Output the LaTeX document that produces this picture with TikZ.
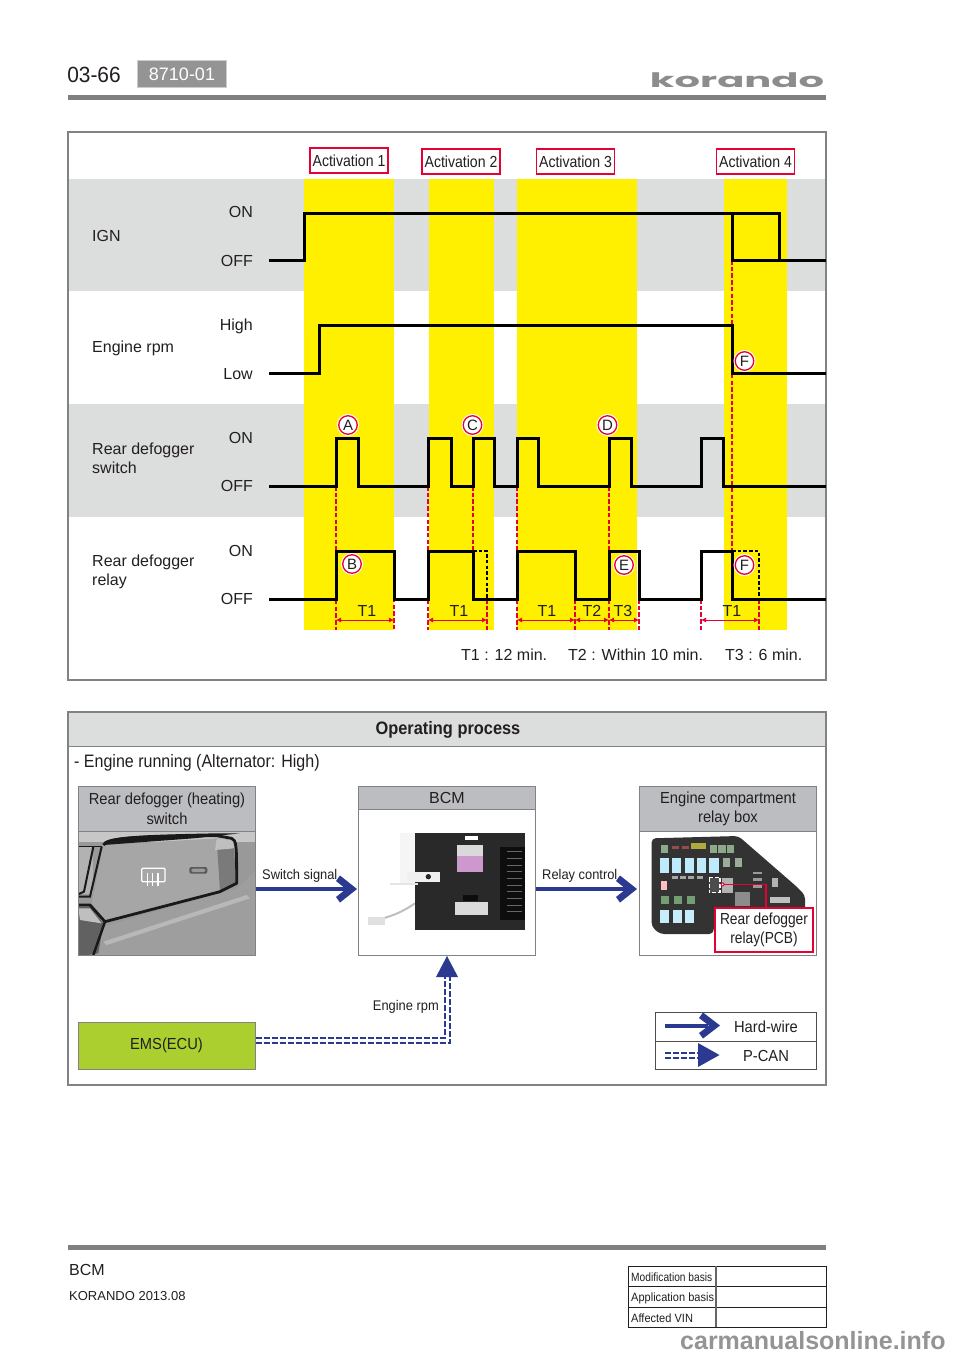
\documentclass[tikz,border=0pt]{standalone}
\usepackage{fontspec}
\setmainfont{Liberation Sans}
\newfontfamily\logofont{Poppins}
\usetikzlibrary{arrows.meta}
\definecolor{bandgray}{HTML}{DCDDDD}
\definecolor{sigyellow}{HTML}{FFF000}
\definecolor{redline}{HTML}{E60033}
\definecolor{hdrgray}{HTML}{BCBDC0}
\definecolor{navy}{HTML}{2B3990}
\definecolor{framegray}{HTML}{808285}
\definecolor{emsgreen}{HTML}{AACF2F}
\definecolor{inkk}{HTML}{231F20}
\newcommand{\fs}[1]{\fontsize{#1}{#1}\selectfont}
\newcommand{\sx}[2]{\scalebox{#1}[1]{#2}}
\tikzset{
  x=1pt,y=-1pt,
  lbl/.style={inner sep=0pt,text=inkk,font=\fs{16}},
  sig/.style={line width=3pt,black,line join=miter},
  ghost/.style={line width=2.7pt,black,dash pattern=on 3.5pt off 2.2pt},
  reddash/.style={line width=1.5pt,redline,dash pattern=on 4.5pt off 2.2pt},
  spanline/.style={line width=.8pt,redline,{Latex[length=5pt,width=5pt]}-{Latex[length=5pt,width=5pt]}},
  act/.style={draw=redline,line width=1.4pt,fill=white,inner sep=0pt,minimum width=78pt,minimum height=25pt,text=inkk,font=\fs{16}},
  circmark/.style={circle,draw=redline,line width=1.3pt,fill=white,minimum size=18.5pt,inner sep=0pt,text=inkk,font=\fs{15},preaction={draw=white,line width=3.5pt}},
  hdrbox/.style={draw=framegray,line width=1pt,fill=hdrgray,inner sep=0pt,anchor=north west,minimum width=177pt,align=center,text=inkk,font=\fs{16}},
  bodybox/.style={draw=framegray,line width=1pt,fill=white,inner sep=0pt,anchor=north west,minimum width=177pt},
  wire/.style={navy,line width=4pt},
  can/.style={navy,line width=2pt,dash pattern=on 6pt off 2pt},
  smalltxt/.style={inner sep=0pt,text=inkk,font=\fs{14}},
  tabt/.style={inner sep=0pt,anchor=west,text=inkk,font=\fs{12}},
}
\begin{document}
\begin{tikzpicture}
\useasboundingbox (0,0) rectangle (960,1358);
\fill[white] (0,0) rectangle (960,1358);
% header
\node[inner sep=0pt,text=inkk,font=\fs{22}] (pg) at (94,74.5) {\sx{.95}{03-66}};
\node[draw=black!20,line width=1.5pt,fill=black!42,text=white,font=\fs{18},minimum width=89pt,minimum height=27pt,inner sep=0pt] (code) at (182,74) {8710-01};
\node[inner sep=0pt,text=black!45,font=\logofont\bfseries\fs{20}] (logo) at (737,80) {\sx{2.0}{korando}};
\fill[black!50] (68,95) rectangle (826,100);
% frame 1
\fill[bandgray] (69,179) rectangle (825,291);
\fill[bandgray] (69,404) rectangle (825,517);
\foreach \a/\b in {304/394,429/494,517/637,724/787}
  \fill[sigyellow] (\a,179) rectangle (\b,630);
\draw[framegray,line width=1.4pt] (68,132) rectangle (826,680);
\node[act] (ac1) at (349,160.5) {\sx{.88}{Activation 1}};
\node[act] (ac2) at (461,161.5) {\sx{.88}{Activation 2}};
\node[act] (ac3) at (575.5,161.5) {\sx{.88}{Activation 3}};
\node[act] (ac4) at (755.5,161.5) {\sx{.88}{Activation 4}};
% labels
\node[lbl,anchor=west] (l1) at (92,236) {IGN};
\node[lbl,anchor=west] (l2) at (92,348) {Engine rpm};
\node[lbl,anchor=west,align=left] (l3) at (92,458.5) {Rear defogger\\[3pt]switch};
\node[lbl,anchor=west,align=left] (l4) at (92,572) {Rear defogger\\[3pt]relay};
\foreach \t/\y [count=\i] in {ON/212,OFF/261,High/326,Low/374,ON/438,OFF/486,ON/551,OFF/599}
  \node[lbl,anchor=east] (s\i) at (253,\y) {\t};
% red dashes
\foreach \x/\a/\b in {336/486/630,394/551/630,428/486/630,473/486/551,487/599/630,517/486/630,575/599/630,609/486/630,639/599/630,701/599/630,732/260/551,759/599/630}
  \draw[reddash] (\x,\a) -- (\x,\b);
% signals
\draw[sig] (269,260) -- (304,260) -- (304,213) -- (779,213) -- (779,260) -- (826,260);
\draw[sig] (732,213) -- (732,260) -- (779,260);
\draw[sig] (269,373) -- (319,373) -- (319,325) -- (732,325) -- (732,373) -- (826,373);
\draw[sig] (269,486) -- (336,486) -- (336,438) -- (358,438) -- (358,486) -- (428,486) -- (428,438) -- (451,438) -- (451,486) -- (473,486) -- (473,438) -- (494,438) -- (494,486) -- (517,486) -- (517,438) -- (538,438) -- (538,486) -- (609,486) -- (609,438) -- (631,438) -- (631,486) -- (701,486) -- (701,438) -- (723,438) -- (723,486) -- (826,486);
\draw[sig] (269,599) -- (336,599) -- (336,551) -- (394,551) -- (394,599) -- (428,599) -- (428,551) -- (473,551) -- (473,599) -- (517,599) -- (517,551) -- (575,551) -- (575,599) -- (609,599) -- (609,551) -- (639,551) -- (639,599) -- (701,599) -- (701,551) -- (732,551) -- (732,599) -- (826,599);
\draw[ghost] (473,551) -- (487,551) -- (487,599);
\draw[ghost] (732,551) -- (759,551) -- (759,599);
% spans
\foreach \a/\b in {336/394,428/487,517/575,575/609,609/639,701/759}
  \draw[spanline] (\a,620) -- (\b,620);
\foreach \x/\t [count=\i] in {367/T1,459/T1,547/T1,592/T2,623/T3,732/T1}
  \node[lbl] (tt\i) at (\x,610.5) {\t};
\node[circmark] (mA) at (348,425) {A};
\node[circmark] (mC) at (472.5,425) {C};
\node[circmark] (mD) at (607.5,425) {D};
\node[circmark] (mB) at (352,564) {B};
\node[circmark] (mE) at (624,565) {E};
\node[circmark] (mF) at (744.5,565) {F};
\node[circmark] (mG) at (744.5,361) {F};
\node[lbl,anchor=west] (k1) at (461,655) {T1 : 12 min.};
\node[lbl,anchor=west] (k2) at (568,655) {T2 : Within 10 min.};
\node[lbl,anchor=west] (k3) at (725,655) {T3 : 6 min.};
% frame 2
\fill[bandgray] (68,712) rectangle (826,746);
\draw[framegray,line width=1.4pt] (68,712) rectangle (826,1085);
\draw[framegray,line width=1pt] (68,746) -- (826,746);
\node[inner sep=0pt,text=inkk,font=\bfseries\fs{18}] (op) at (448,730) {\sx{.91}{Operating process}};
\node[inner sep=0pt,anchor=west,text=inkk,font=\fs{18}] (er) at (74,763) {\sx{.89}{- Engine running (Alternator: High)}};
% switch box
\node[hdrbox,minimum height=45pt] (swh) at (78,786) {\sx{.92}{Rear defogger (heating)}\\[3.5pt]\sx{.92}{switch}};
\node[bodybox,minimum height=124pt] (swb) at (78,831) {};
\begin{scope}
\clip (78,831) rectangle (255,955);
\begin{scope}[shift={(60,770)},x=.33333pt,y=-.33333pt]
\fill[black!40] (50,180) rectangle (590,560);
\fill[black!22] (50,180) rectangle (590,215);
\fill[black!38] (130,470) -- (530,355) -- (590,300) -- (590,560) -- (100,560) -- cycle;
\fill[black!28] (130,515) -- (560,375) -- (570,385) -- (140,525) -- cycle;
\fill[black!35] (130,225) -- (470,205) -- (520,210) -- (530,340) -- (480,365) -- (135,450) -- (95,400) -- cycle;
\fill[black!52] (470,205) -- (520,210) -- (530,340) -- (480,365) -- cycle;
\fill[black!25] (470,205) -- (520,210) -- (522,235) -- (465,240) -- cycle;
\fill[black!62] (50,410) -- (90,410) -- (130,460) -- (115,550) -- (50,560) -- cycle;
\fill[black!25] (55,415) -- (90,415) -- (125,460) -- (60,450) -- cycle;
\fill[black!30] (50,232) rectangle (100,372);
\draw[black!90,line width=2.8pt,line join=round] (130,225) .. controls (140,205) and (200,200) .. (470,197) -- (515,205) .. controls (530,210) and (530,230) .. (530,340) -- (480,365) -- (135,455) -- (90,405) -- (50,405);
\fill[black!90] (130,225) .. controls (140,200) and (200,195) .. (470,190) -- (540,190) -- (400,205) -- cycle;
\draw[black!90,line width=2pt] (125,230) -- (90,380) -- (50,380);
\draw[black!90,line width=2pt] (100,230) -- (72,365) -- (50,375);
\draw[black!90,line width=1.5pt] (50,230) -- (125,230);
\draw[black!90,line width=2.5pt] (135,455) -- (100,555);
\draw[white,line width=1.3pt,rounded corners=1pt] (245,295) rectangle (315,335);
\foreach \q in {262,278,294} \draw[white,line width=1.1pt] (\q,308) -- (\q,348);
\fill[black!65,rounded corners=2pt] (388,291) rectangle (442,311);
\fill[black!40,rounded corners=2pt] (394,296) rectangle (436,306);
\end{scope}
\end{scope}
\draw[framegray,line width=1pt] (78,831) rectangle (255,955);
% BCM box
\node[hdrbox,minimum height=23pt] (bcmh) at (358,786) {BCM};
\node[bodybox,minimum height=146pt] (bcmb) at (358,809) {};
\begin{scope}[shift={(350,770)},x=.33333pt,y=-.33333pt]
\draw[black!25,line width=2pt] (195,400) .. controls (150,430) and (130,435) .. (100,445);
\fill[black!12] (55,440) rectangle (105,465);
\fill[black!4] (150,190) rectangle (200,340);
\fill[black!84] (195,190) rectangle (525,480);
\fill[white] (345,197) rectangle (385,210);
\fill[black!6] (205,305) rectangle (270,335);
\fill[black!6] (170,305) rectangle (205,335);
\fill[black!85] (235,320) circle[radius=8];
\fill[black!10] (120,340) rectangle (205,344);
\fill[violet!40] (320,258) rectangle (400,305);
\fill[black!15] (320,225) rectangle (400,258);
\fill[black!95] (340,375) rectangle (385,392);
\fill[black!14] (315,395) rectangle (415,435);
\fill[black!95] (450,230) rectangle (525,450);
\foreach \q in {245,265,...,425} \draw[black!60,line width=1pt] (470,\q) -- (515,\q);
\end{scope}
\draw[framegray,line width=1pt] (358,809) rectangle (535,955);
% relay box
\node[hdrbox,minimum height=45pt] (rbh) at (639,786) {\sx{.92}{Engine compartment}\\[3.5pt]\sx{.92}{relay box}};
\node[bodybox,minimum height=124pt] (rbb) at (639,831) {};
\begin{scope}[shift={(630,780)},x=.33333pt,y=-.33333pt]
\fill[black!80,rounded corners=4pt] (65,175) -- (325,168) -- (500,320) -- (525,345) -- (525,400) -- (255,400) -- (250,462) -- (90,462) -- (65,440) -- cycle;
\foreach \q in {90,125,165,200,238} \fill[cyan!25!white] (\q,235) rectangle (\q+28,280);
\foreach \q in {90,128,165} \fill[cyan!22!white] (\q,390) rectangle (\q+28,430);
\foreach \q in {92,132,170} \fill[green!30!black!55] (\q,347) rectangle (\q+24,372);
\foreach \q in {92,240,265,290} \fill[green!25!black!45] (\q,195) rectangle (\q+22,220);
\fill[yellow!65!black] (182,190) rectangle (228,207);
\foreach \q in {125,155} \fill[red!40!black!70] (\q,198) rectangle (\q+22,207);
\fill[red!25!white] (92,302) rectangle (112,330);
\fill[green!20!black!40] (280,235) rectangle (300,260);
\fill[green!20!black!40] (315,235) rectangle (335,260);
\foreach \q in {125,150,175,200} \fill[black!35] (\q,288) rectangle (\q+18,296);
\fill[black!45] (315,335) rectangle (360,378);
\fill[black!25] (420,350) rectangle (480,370);
\foreach \q in {275,295,315} \fill[black!40] (370,\q) rectangle (395,\q+8);
\fill[black!30] (425,295) rectangle (445,320);
\fill[black!30] (275,295) rectangle (310,340);
\draw[white,line width=1.5pt,dash pattern=on 4pt off 2pt,fill=black!70] (238,293) rectangle (270,338);
\draw[redline,line width=1.5pt] (278,313) -- (408,313) -- (408,385);
\fill[redline] (278,313) circle[radius=6];
\fill[white] (278,313) circle[radius=2.5];
\end{scope}
\draw[framegray,line width=1pt] (639,831) rectangle (816,955);
\node[draw=redline,line width=1.4pt,fill=white,inner sep=0pt,minimum width=98pt,minimum height=44pt,align=center,text=inkk,font=\fs{16}] (rc) at (764,930) {\sx{.86}{Rear defogger}\\[3.5pt]\sx{.86}{relay(PCB)}};
% EMS
\node[draw=framegray,line width=1pt,fill=emsgreen,inner sep=0pt,minimum width=177pt,minimum height=47pt,text=inkk,font=\fs{16}] (ems) at (166.5,1045.5) {\sx{.92}{EMS(ECU)}};
% connectors
\coordinate (y1) at (0,889);
\draw[wire] (swb.east |- y1) -- (347,889);
\fill[navy] (357,889) -- (340,875.5) -- (336,881) -- (346,889) -- (336,897) -- (340,902.5) -- cycle;
\draw[wire] (bcmb.east |- y1) -- (627,889);
\fill[navy] (637,889) -- (620,875.5) -- (616,881) -- (626,889) -- (616,897) -- (620,902.5) -- cycle;
\node[smalltxt,anchor=west] (ss) at (262,876) {\sx{.92}{Switch signal}};
\node[smalltxt,anchor=west] (rcl) at (542,876) {\sx{.92}{Relay control}};
\draw[can] (ems.east |- 0,1037.5) -- (445,1037.5) -- (445,975);
\draw[can] (ems.east |- 0,1042.5) -- (449.5,1042.5) -- (449.5,975);
\fill[navy] (bcmb.south) -- (458,977) -- (436,977) -- cycle;
\node[smalltxt,anchor=east] (rp) at (439,1007) {\sx{.92}{Engine rpm}};
% legend
\draw[inkk!80,line width=1pt] (655,1012) rectangle (816,1069);
\draw[inkk!80,line width=1pt] (655,1041) -- (816,1041);
\node[lbl] (hw) at (766,1026.5) {\sx{.92}{Hard-wire}};
\node[lbl] (pc) at (766,1055.5) {\sx{.92}{P-CAN}};
\coordinate (w1) at (665,1025.5);
\coordinate (w2) at (708,1025.5);
\draw[wire] (w1) -- (w2);
\fill[navy] (720,1025.5) -- (703,1012.5) -- (699,1018) -- (709,1025.5) -- (699,1033) -- (703,1038.5) -- cycle;
\coordinate (d1) at (665,1052.5);
\coordinate (d2) at (699,1052.5);
\coordinate (d3) at (665,1057.5);
\coordinate (d4) at (699,1057.5);
\draw[can] (d1) -- (d2);
\draw[can] (d3) -- (d4);
\fill[navy] (719.5,1055) -- (698,1043) -- (698,1067) -- cycle;
% footer
\fill[black!50] (68,1245) rectangle (826,1250);
\node[inner sep=0pt,anchor=west,text=inkk,font=\fs{16}] (fb) at (69,1270) {BCM};
\node[inner sep=0pt,anchor=west,text=inkk,font=\fs{13}] (fk) at (69,1296) {KORANDO 2013.08};
\draw[inkk,line width=.9pt] (628,1266) rectangle (826,1327);
\draw[inkk,line width=.9pt] (628,1286.5) -- (826,1286.5);
\draw[inkk,line width=.9pt] (628,1307) -- (826,1307);
\draw[black!60,line width=1.1pt] (716,1266) -- (716,1327);
\node[tabt] (t1) at (631,1277) {\sx{.85}{Modification basis}};
\node[tabt] (t2) at (631,1298) {\sx{.92}{Application basis}};
\node[tabt] (t3) at (631,1318) {\sx{.92}{Affected VIN}};
\node[inner sep=0pt,anchor=west,text=black!42,font=\bfseries\fs{25}] (wm) at (680,1341) {\sx{1.0}{carmanualsonline.info}};
\end{tikzpicture}
\end{document}
